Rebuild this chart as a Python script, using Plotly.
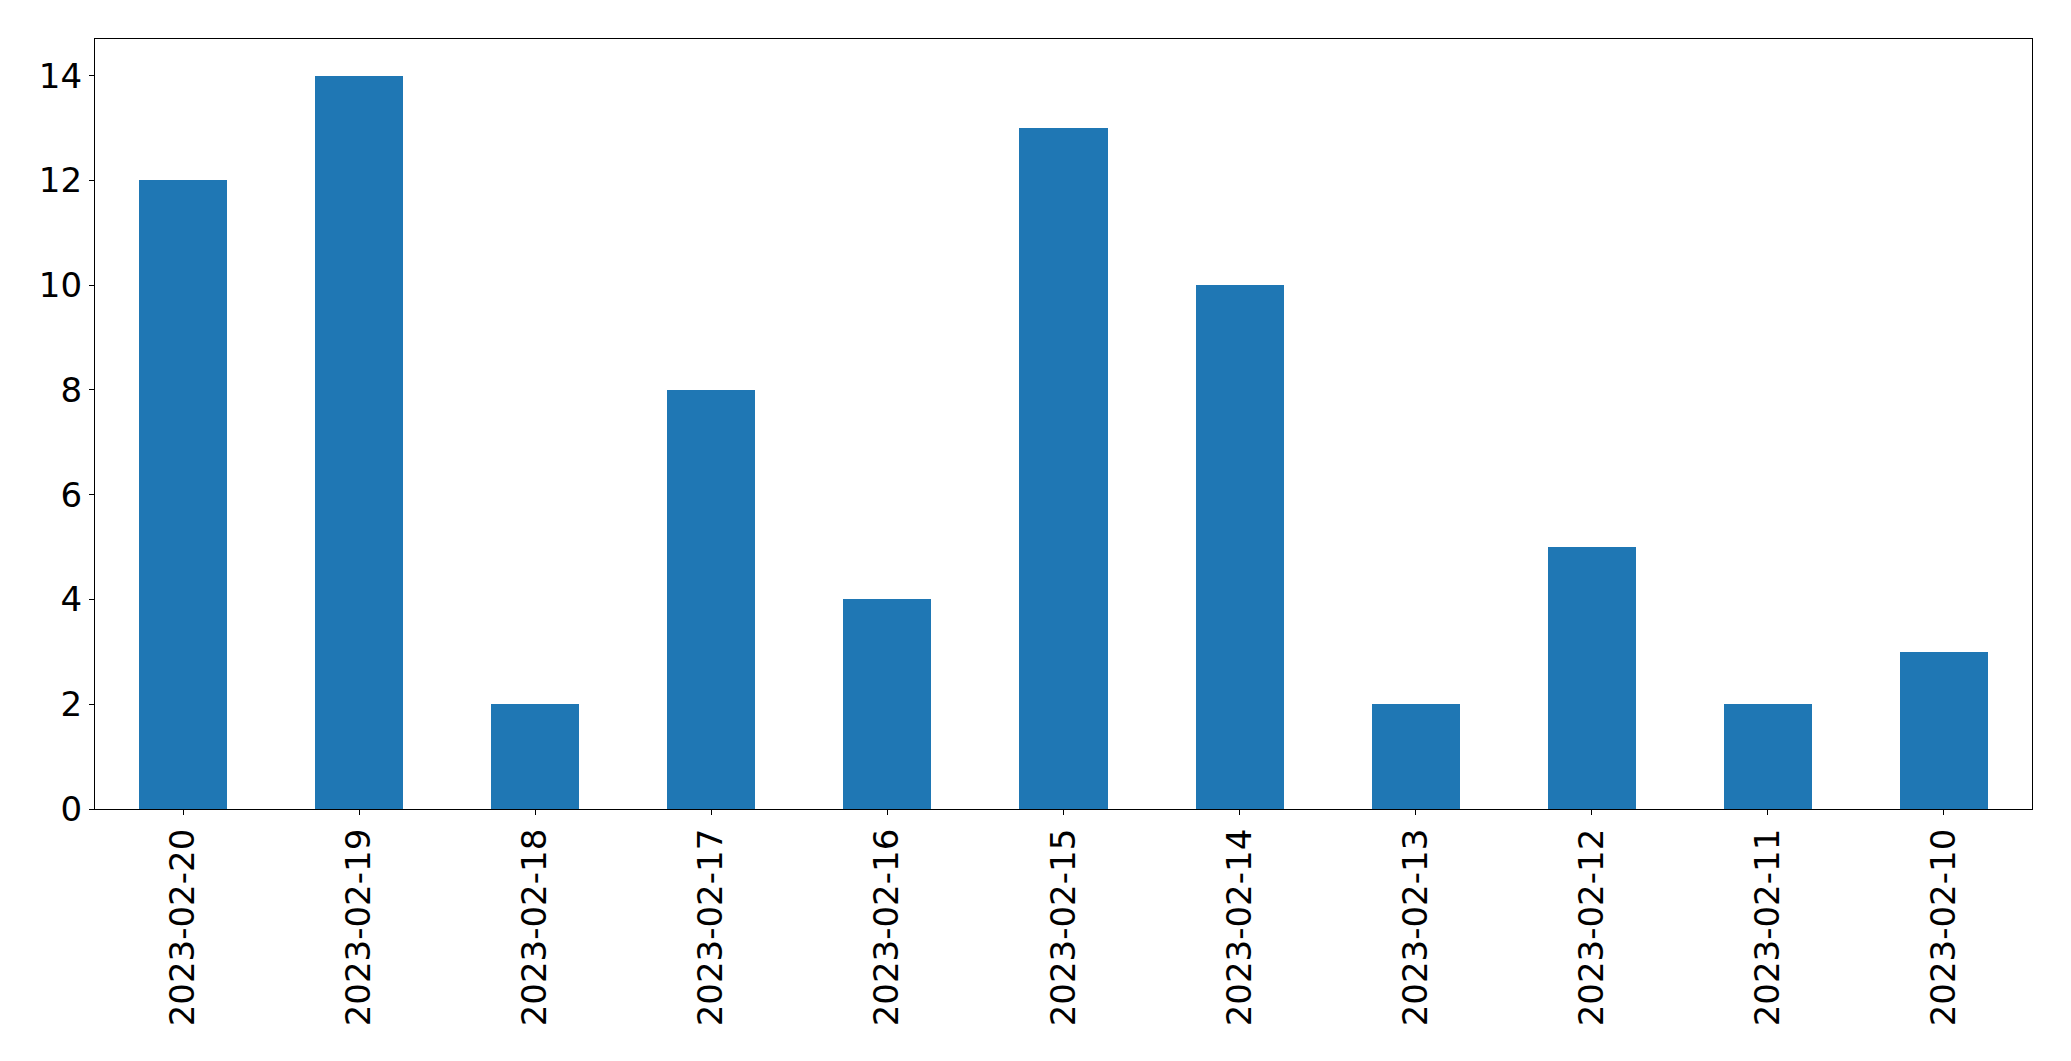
import plotly.graph_objects as go

dates = ["2023-02-20", "2023-02-19", "2023-02-18", "2023-02-17", "2023-02-16", "2023-02-15",
         "2023-02-14", "2023-02-13", "2023-02-12", "2023-02-11", "2023-02-10"]
counts = [12, 14, 2, 8, 4, 13, 10, 2, 5, 2, 3]
y_ticks = [0, 2, 4, 6, 8, 10, 12, 14]

fig = go.Figure(go.Bar(x=dates, y=counts, marker_color="#1f77b4", marker_line_width=0, width=0.5))

font = dict(family="DejaVu Sans", size=34, color="black")
# page body has an 8px default margin; compensate so the plot area lands where the reference has it
fig.update_layout(
    width=2071, height=1061,
    margin=dict(l=87, r=47, t=31, b=260),
    paper_bgcolor="white", plot_bgcolor="white",
    showlegend=False, bargap=0,
    font=font,
)
fig.update_xaxes(
    type="category", range=[-0.5, len(dates) - 0.5], automargin=False,
    tickangle=-90, ticks="outside", ticklen=5, tickwidth=1.2, tickcolor="black",
    showline=True, linecolor="black", linewidth=1.3, mirror=True, showgrid=False,
    tickfont=font,
)
fig.update_yaxes(
    range=[0, 14.7], tickvals=y_ticks, automargin=False,
    ticks="outside", ticklen=5, tickwidth=1.2, tickcolor="black",
    showline=True, linecolor="black", linewidth=1.3, mirror=True, showgrid=False, zeroline=False,
    tickfont=font,
)
fig.write_html("out.html")
